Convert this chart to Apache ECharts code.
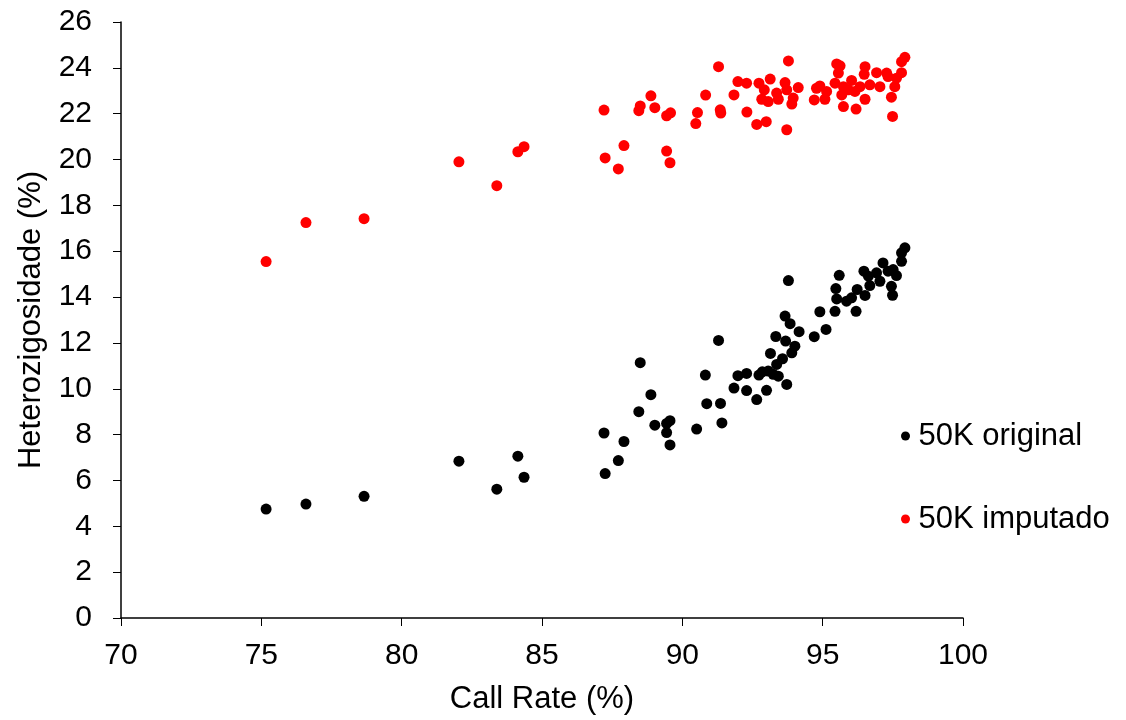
<!DOCTYPE html>
<html>
<head>
<meta charset="utf-8">
<script src="https://cdn.jsdelivr.net/npm/echarts@6/dist/echarts.min.js"></script>
<style>
  html, body { margin: 0; padding: 0; background: #fff; }
  #chart { width: 1126px; height: 720px; }
</style>
</head>
<body>
<div id="chart"></div>
<script>
// dados: call rate (%) e heterozigosidade (%)
var originalCallRate = [75.17, 76.59, 78.66, 82.04, 83.39, 84.14, 84.36, 87.21, 87.25, 87.72, 87.92, 88.45, 88.50, 88.88, 89.02, 89.44, 89.56, 89.44, 89.56, 90.51, 90.82, 90.87, 91.29, 91.36, 91.41, 91.84, 91.98, 92.29, 92.29, 92.65, 92.73, 92.85, 93.00, 93.06, 93.24, 93.14, 93.33, 93.36, 93.57, 93.42, 93.72, 93.66, 93.68, 93.78, 93.84, 93.90, 94.01, 94.16, 94.70, 95.12, 94.90, 95.44, 95.47, 95.50, 95.59, 95.85, 96.03, 96.19, 96.23, 96.51, 96.47, 96.63, 96.68, 96.92, 97.04, 97.15, 97.33, 97.51, 97.63, 97.49, 97.45, 97.81, 97.81, 97.93];
var originalHet = [4.75, 4.97, 5.31, 6.84, 5.62, 7.06, 6.14, 8.07, 6.30, 6.87, 7.70, 9.00, 11.14, 9.74, 8.41, 8.49, 8.61, 8.09, 7.55, 8.24, 10.60, 9.35, 12.11, 9.36, 8.51, 10.03, 10.57, 10.67, 9.92, 9.53, 10.60, 10.74, 9.93, 10.77, 10.63, 11.54, 12.28, 11.06, 11.31, 10.55, 10.19, 13.17, 12.08, 14.72, 12.84, 11.57, 11.86, 12.49, 12.27, 12.59, 13.36, 13.38, 14.37, 13.92, 14.95, 13.82, 13.97, 13.38, 14.33, 14.07, 15.13, 14.91, 14.50, 15.06, 14.69, 15.49, 15.13, 15.20, 14.94, 14.08, 14.47, 15.56, 15.93, 16.15];

var imputadoCallRate = [75.17, 76.59, 78.66, 82.04, 83.39, 84.14, 84.36, 87.21, 87.25, 87.72, 87.92, 88.45, 88.50, 88.88, 89.02, 89.44, 89.58, 89.44, 89.56, 90.48, 90.54, 90.83, 91.29, 91.35, 91.37, 91.84, 91.98, 92.29, 92.30, 92.65, 92.73, 92.83, 92.92, 92.99, 93.06, 93.13, 93.36, 93.42, 93.66, 93.72, 93.78, 93.72, 93.90, 93.95, 94.13, 94.70, 94.78, 94.90, 95.08, 95.14, 95.44, 95.50, 95.62, 95.56, 95.68, 95.74, 95.74, 95.92, 96.03, 96.15, 96.19, 96.33, 96.48, 96.51, 96.51, 96.68, 96.92, 97.04, 97.28, 97.33, 97.45, 97.49, 97.57, 97.63, 97.81, 97.81, 97.93];
var imputadoHet = [15.55, 17.25, 17.42, 19.90, 18.86, 20.34, 20.56, 22.16, 20.07, 19.59, 20.61, 22.13, 22.34, 22.78, 22.26, 21.91, 22.04, 20.37, 19.86, 21.57, 22.05, 22.81, 24.05, 22.17, 22.03, 22.82, 23.40, 23.33, 22.07, 21.53, 23.33, 22.63, 23.04, 21.65, 22.53, 23.51, 22.90, 22.63, 23.36, 23.04, 24.30, 21.30, 22.42, 22.68, 23.14, 22.60, 23.11, 23.21, 22.63, 22.97, 23.33, 24.17, 24.09, 23.77, 22.82, 23.18, 22.31, 23.04, 23.45, 22.97, 22.20, 23.18, 23.72, 24.05, 22.63, 23.26, 23.79, 23.18, 23.77, 23.62, 22.72, 21.88, 23.18, 23.55, 23.79, 24.27, 24.46];

var seriesNames = ["50K original", "50K imputado"];

function pares(xs, ys) {
  var out = [];
  for (var i = 0; i < xs.length; i++) out.push([xs[i], ys[i]]);
  return out;
}

(function () {
  var myChart = echarts.init(document.getElementById('chart'));
  var fonte = 'Liberation Sans, Arial, sans-serif';
  var option = {
    animation: false,
    backgroundColor: '#fff',
    textStyle: { fontFamily: fonte },
    grid: { left: 121, right: 163, top: 22, bottom: 101 },
    // legenda à direita, pontos pequenos
    legend: {
      orient: 'vertical',
      left: 896,
      top: 415,
      itemGap: 51,
      itemWidth: 16,
      itemHeight: 9,
      icon: 'circle',
      textStyle: { fontSize: 31, lineHeight: 32, color: '#000', fontFamily: fonte },
      data: seriesNames
    },
    xAxis: {
      type: 'value',
      min: 70,
      max: 100,
      interval: 5,
      name: 'Call Rate (%)',
      nameLocation: 'middle',
      nameGap: 66,
      nameTextStyle: { fontSize: 31, color: '#000', fontFamily: fonte },
      axisLine: { lineStyle: { color: '#000', width: 1.5 } },
      axisTick: { show: true, length: 8, lineStyle: { color: '#000' } },
      axisLabel: { fontSize: 30, color: '#000', margin: 23 },
      splitLine: { show: false }
    },
    yAxis: {
      type: 'value',
      min: 0,
      max: 26,
      interval: 2,
      name: 'Heterozigosidade (%)',
      nameLocation: 'middle',
      nameGap: 74,
      nameTextStyle: { fontSize: 31, color: '#000', fontFamily: fonte },
      axisLine: { show: true, lineStyle: { color: '#000', width: 1.5 } },
      axisTick: { show: true, length: 8, lineStyle: { color: '#000' } },
      axisLabel: { fontSize: 30, color: '#000', margin: 29 },
      splitLine: { show: false }
    },
    series: [
      {
        name: seriesNames[0],
        type: 'scatter',
        symbolSize: 11,
        itemStyle: { color: '#000', opacity: 1 },
        data: pares(originalCallRate, originalHet)
      },
      {
        name: seriesNames[1],
        type: 'scatter',
        symbolSize: 11,
        itemStyle: { color: '#ff0000', opacity: 1 },
        data: pares(imputadoCallRate, imputadoHet)
      }
    ]
  };
  myChart.setOption(option);
  window.addEventListener('resize', function () {
    myChart.resize();
  });
})();
</script>
</body>
</html>
